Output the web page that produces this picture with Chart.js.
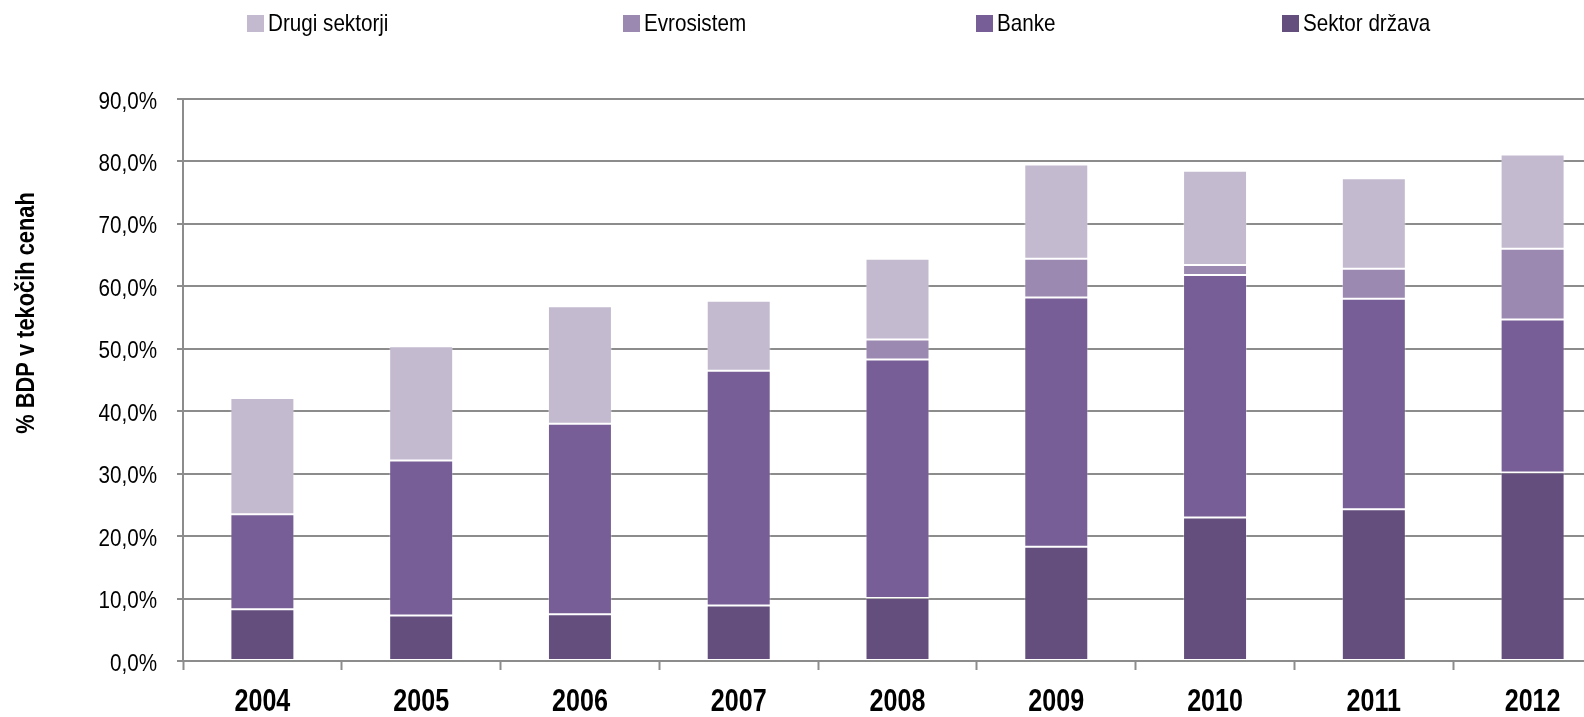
<!DOCTYPE html>
<html lang="sl">
<head>
<meta charset="utf-8">
<title>Dolg po sektorjih</title>
<script src="https://cdn.jsdelivr.net/npm/chart.js@4.4.1/dist/chart.umd.min.js"></script>
<style>
  html, body { margin: 0; padding: 0; background: #ffffff; overflow: hidden; }
  #wrap { position: relative; width: 1612px; height: 717px; }
  #legend { position: absolute; left: 0; top: 0; width: 1584px; height: 50px; }
  .item { position: absolute; top: 6px; display: flex; align-items: center; height: 34px;
          font-family: "Liberation Sans", Arial, sans-serif;
          font-size: 24px; color: #000; white-space: nowrap; }
  .box { width: 17px; height: 17px; margin-right: 4px; flex: none; }
  .txt { display: inline-block; transform: scaleX(0.86); transform-origin: left center; }
</style>
</head>
<body>
<div id="wrap">
  <div id="legend"></div>
  <canvas id="chart" width="1612" height="717"></canvas>
</div>
<script>
// Leta
const years = ['2004', '2005', '2006', '2007', '2008', '2009', '2010', '2011', '2012'];

// Deleži v % BDP po sektorjih imetnikov dolga
const sektorDrzava  = [8.3, 7.3, 7.5, 8.9, 10.1, 18.3, 23.0, 24.3, 30.2];
const banke         = [15.2, 24.8, 30.5, 37.6, 38.2, 39.9, 38.8, 33.7, 24.5];
const evrosistem    = [null, null, null, null, 3.2, 6.2, 1.6, 4.8, 11.3];
const drugiSektorji = [18.6, 18.3, 18.8, 11.2, 12.9, 15.1, 15.1, 14.5, 15.1];

// Oznake osi y
const yTicks = [0, 10, 20, 30, 40, 50, 60, 70, 80, 90];
const yTitle = '% BDP v tekočih cenah';

const names  = ['Drugi sektorji', 'Evrosistem', 'Banke', 'Sektor država'];
const colors = ['#C3BAD0', '#9C89B2', '#775E96', '#634E7E'];
const legendLeft = [247, 623, 976, 1282];

const SANS = '"Liberation Sans", Arial, sans-serif';
const GRID = '#8c8c8c';

const fmtPct = v => v.toFixed(1).replace('.', ',') + '%';

// Legenda
const legend = document.getElementById('legend');
names.forEach((n, i) => {
  const el = document.createElement('div');
  el.className = 'item';
  el.style.left = legendLeft[i] + 'px';
  const b = document.createElement('span');
  b.className = 'box';
  b.style.background = colors[i];
  const t = document.createElement('span');
  t.className = 'txt';
  t.textContent = n;
  el.appendChild(b);
  el.appendChild(t);
  legend.appendChild(el);
});

// Ozka pisava: besedilo, stisnjeno po širini
function narrowText(ctx, text, x, y, sx) {
  ctx.save();
  ctx.translate(x, y);
  ctx.scale(sx, 1);
  ctx.fillText(text, 0, 0);
  ctx.restore();
}

// Oznake osi in naslov osi y
const axisLabels = {
  id: 'axisLabels',
  afterDraw(chart) {
    const ctx = chart.ctx;
    const xs = chart.scales.x;
    const ys = chart.scales.y;
    ctx.save();
    ctx.fillStyle = '#000';
    ctx.textBaseline = 'alphabetic';

    // vrednosti na osi y
    ctx.font = '24px ' + SANS;
    ctx.textAlign = 'right';
    const yLabelRight = ys.right - 26;
    ys.ticks.forEach(t => {
      narrowText(ctx, fmtPct(t.value), yLabelRight, ys.getPixelForValue(t.value) + 9.5, 0.86);
    });

    // leta na osi x
    ctx.font = 'bold 31px ' + SANS;
    ctx.textAlign = 'center';
    xs.ticks.forEach((t, i) => {
      narrowText(ctx, xs.getLabelForValue(t.value), xs.getPixelForTick(i), xs.top + 50, 0.81);
    });

    // naslov osi y
    ctx.translate(27, 313);
    ctx.rotate(-Math.PI / 2);
    ctx.font = 'bold 26px ' + SANS;
    ctx.textAlign = 'center';
    ctx.textBaseline = 'middle';
    narrowText(ctx, yTitle, 0, 0, 0.84);
    ctx.restore();
  }
};

const seriesData = [drugiSektorji, evrosistem, banke, sektorDrzava];
const datasets = [3, 2, 1, 0].map(i => ({
  label: names[i],
  data: seriesData[i],
  backgroundColor: colors[i],
  borderColor: 'rgba(255,255,255,0.3)',
  borderWidth: 1,
  borderSkipped: false,
  barPercentage: 0.403,
  categoryPercentage: 1.0
}));

new Chart(document.getElementById('chart'), {
  type: 'bar',
  data: { labels: years, datasets },
  plugins: [axisLabels],
  options: {
    responsive: false,
    animation: false,
    layout: { padding: { top: 99, right: 0, bottom: 0, left: 0 } },
    plugins: {
      legend: { display: false },
      tooltip: { enabled: false }
    },
    scales: {
      x: {
        stacked: true,
        offset: true,
        afterFit(s) { s.height = 56; },
        grid: {
          offset: true,
          drawOnChartArea: false,
          drawTicks: true,
          tickLength: 9,
          tickWidth: 2,
          tickColor: GRID
        },
        border: { display: true, color: GRID, width: 2 },
        ticks: { display: false }
      },
      y: {
        stacked: true,
        min: 0,
        max: 90,
        afterFit(s) { s.width = 183; },
        afterBuildTicks(s) { s.ticks = yTicks.map(v => ({ value: v })); },
        grid: {
          color: GRID,
          lineWidth: 2,
          drawTicks: true,
          tickLength: 6,
          tickColor: GRID
        },
        border: { display: true, color: GRID, width: 2 },
        ticks: { display: false }
      }
    }
  }
});
</script>
</body>
</html>
